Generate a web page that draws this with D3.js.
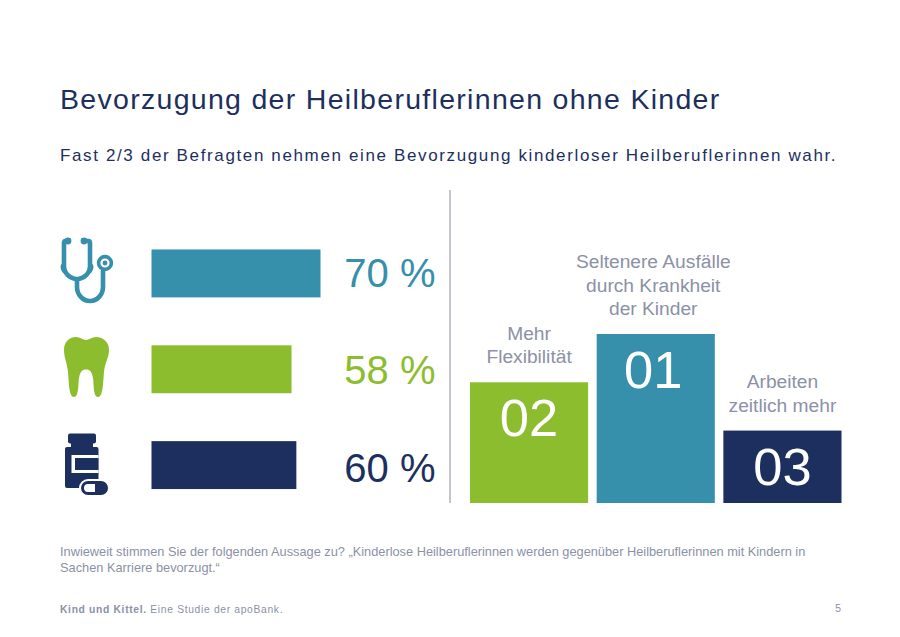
<!DOCTYPE html>
<html><head><meta charset="utf-8">
<script src="https://cdn.jsdelivr.net/npm/d3@7"></script>
<style>html,body{margin:0;padding:0;background:#fff}svg{display:block}text{font-family:"Liberation Sans",Arial,sans-serif}</style>
</head><body><div id="c"></div>
<script>
const shareKeys = ["aerzte","zahnaerzte","apotheker"];
const shareValues = [70,58,60];
const shareLabels = ["70 %","58 %","60 %"];
const reasonKeys = ["02","01","03"];
const reasonHeights = [2.5,3.5,1.5];
const reasonLabels = [["Mehr","Flexibilität"],["Seltenere Ausfälle","durch Krankheit","der Kinder"],["Arbeiten","zeitlich mehr"]];
const TEAL="#368fab",GREEN="#8cbd2f",NAVY="#1d2f5e",GREY="#8b91a6";
const colorsShare=[TEAL,GREEN,NAVY];
const colorsReason={"01":TEAL,"02":GREEN,"03":NAVY};

const svg=d3.select("#c").append("svg").attr("width",900).attr("height",637);
const T=(x,y,s,size,fill,ls,anchor,weight)=>svg.append("text").attr("x",x).attr("y",y).text(s)
  .attr("font-size",size).attr("fill",fill).attr("letter-spacing",ls||0).attr("text-anchor",anchor||"start").attr("font-weight",weight||"normal");

T(60,109,"Bevorzugung der Heilberuflerinnen ohne Kinder",28.5,NAVY,1.3);
T(60,161,"Fast 2/3 der Befragten nehmen eine Bevorzugung kinderloser Heilberuflerinnen wahr.",17,NAVY,1.63);

// left bars
const xL=d3.scaleLinear().domain([0,70]).range([151.5,320.5]);
const yL=d3.scaleBand().domain(shareKeys).range([225.5,513]).paddingInner(0.5).paddingOuter(0.25);
const yLabel=d3.scalePoint().domain(shareKeys).range([286.5,482]);
svg.append("g").selectAll("rect").data(shareKeys).join("rect")
  .attr("x",xL(0)).attr("y",d=>yL(d)).attr("height",yL.bandwidth())
  .attr("width",(d,i)=>xL(shareValues[i])-xL(0)).attr("fill",(d,i)=>colorsShare[i]);
svg.append("g").selectAll("text").data(shareKeys).join("text")
  .attr("x",435.5).attr("y",d=>yLabel(d)).attr("text-anchor","end")
  .attr("font-size",40).attr("fill",(d,i)=>colorsShare[i]).text((d,i)=>shareLabels[i]);

// divider
svg.append("line").attr("x1",450).attr("x2",450).attr("y1",190).attr("y2",503).attr("stroke","#b4b8c6").attr("stroke-width",1.6);

// right bars
const xR=d3.scaleBand().domain(reasonKeys).range([470,841.5]).paddingInner(0.0675);
const yR=d3.scaleLinear().domain([0,3.5]).range([503,334]);
const textShift=d=>d==="01"?-2.5:0;
const g=svg.append("g").selectAll("g").data(reasonKeys).join("g");
g.append("rect").attr("x",d=>xR(d)).attr("width",xR.bandwidth())
  .attr("y",(d,i)=>yR(reasonHeights[i])).attr("height",(d,i)=>yR(0)-yR(reasonHeights[i]))
  .attr("fill",d=>colorsReason[d]);
g.append("text").attr("x",d=>xR(d)+xR.bandwidth()/2+textShift(d)).attr("y",(d,i)=>yR(reasonHeights[i])+54)
  .attr("text-anchor","middle").attr("font-size",52.5).attr("fill","#fff").text(d=>d);
g.each(function(d,i){
  const n=reasonLabels[i].length, top=yR(reasonHeights[i]);
  d3.select(this).selectAll("text.l").data(reasonLabels[i]).join("text").attr("class","l")
    .attr("x",xR(d)+xR.bandwidth()/2+textShift(d)).attr("y",(s,j)=>top-19-(n-1-j)*23.5)
    .attr("text-anchor","middle").attr("font-size",19.2).attr("fill",GREY).text(s=>s);
});

// stethoscope icon
const st=svg.append("g").attr("fill","none").attr("stroke",TEAL).attr("stroke-width",4.6).attr("stroke-linecap","round");
st.append("path").attr("d","M68 241 H65.500 Q64 241 64 243 V266 A13 13 0 0 0 90 266 V243 Q90 241 88.500 241 H84");
st.append("path").attr("d","M77 280 V287 A13 14 0 0 0 103 287 V271");
st.append("circle").attr("cx",105).attr("cy",263).attr("r",6.4).attr("stroke-width",3.6);
svg.append("circle").attr("cx",68).attr("cy",241).attr("r",3.4).attr("fill",TEAL);
svg.append("circle").attr("cx",84).attr("cy",241).attr("r",3.4).attr("fill",TEAL);
svg.append("circle").attr("cx",105).attr("cy",263).attr("r",2.4).attr("fill",TEAL);
svg.append("path").attr("fill",TEAL).attr("d","M60.500 267 Q61 263 63.500 263 L66 263 V273 L63 273 Q60.500 270 60.500 267 Z M93.500 267 Q93 263 90.500 263 L88 263 V273 L91 273 Q93.500 270 93.500 267 Z");

// tooth icon
svg.append("path").attr("fill",GREEN).attr("d","M76 337 C70 337 64 341 64 350 C64 358 67 362 68 372 C69 384 69 397 74 397 C79 397 78 384 79 378 C80 372 82 369.500 86 369.500 C90 369.500 92 372 93 378 C94 384 93 397 98 397 C103 397 103 384 104 372 C105 362 109 358 109 350 C109 341 102 337 96 337 C92 337 89 340 86 340 C83 340 80 337 76 337 Z");

// pill bottle icon
svg.append("rect").attr("x",68).attr("y",433.5).attr("width",28).attr("height",10).attr("rx",2).attr("fill",NAVY);
svg.append("rect").attr("x",71).attr("y",442).attr("width",22).attr("height",6).attr("fill",NAVY);
svg.append("rect").attr("x",65).attr("y",447).attr("width",33.5).attr("height",41).attr("rx",2).attr("fill",NAVY);
svg.append("rect").attr("x",71.5).attr("y",455).attr("width",27).attr("height",18).attr("fill","#fff");
svg.append("rect").attr("x",75).attr("y",458).attr("width",23.5).attr("height",12).attr("fill",NAVY);
svg.append("rect").attr("x",79).attr("y",479).attr("width",31).attr("height",18).attr("rx",9).attr("fill","#fff");
svg.append("rect").attr("x",82.5).attr("y",482.500).attr("width",24).attr("height",11).attr("rx",5.5).attr("fill","#fff").attr("stroke",NAVY).attr("stroke-width",3);
svg.append("path").attr("fill",NAVY).attr("d","M95 483 H101 A5 5 0 0 1 101 493 H95 Z");

T(60,556,"Inwieweit stimmen Sie der folgenden Aussage zu? „Kinderlose Heilberuflerinnen werden gegenüber Heilberuflerinnen mit Kindern in",12.79,GREY);
T(60,572,"Sachen Karriere bevorzugt.“",12.79,GREY);
const f=T(60,613,"",10.3,GREY,0.67);
f.append("tspan").attr("font-weight","bold").text("Kind und Kittel.");
f.append("tspan").text(" Eine Studie der apoBank.");
T(841,612,"5",10.3,GREY,0,"end");
</script></body></html>
